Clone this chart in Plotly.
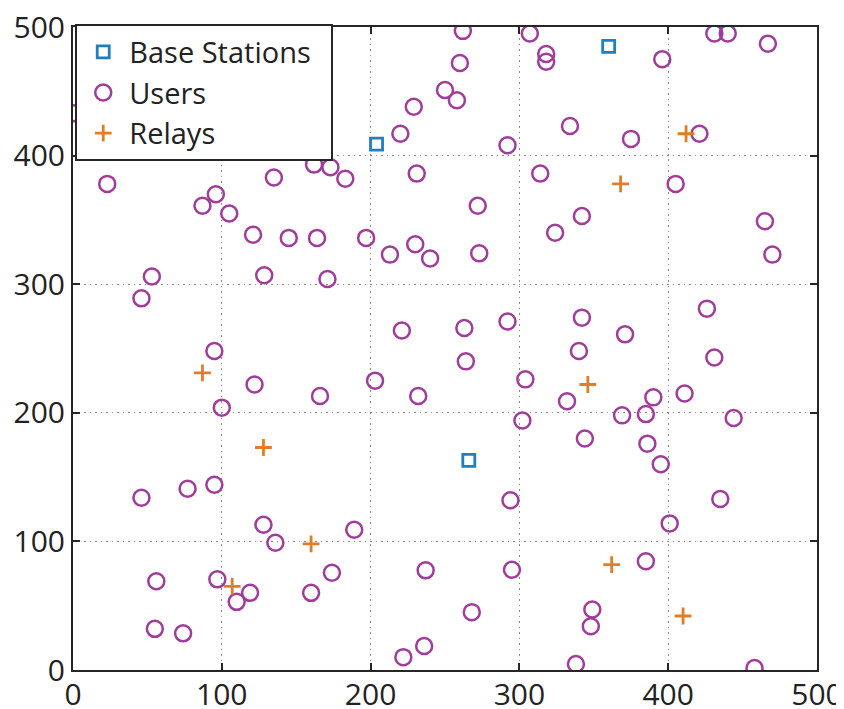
import plotly.graph_objects as go

# Base stations
bs_x = [204, 360, 266]
bs_y = [409, 485, 163]

# Relays
relay_x = [412, 368, 87, 128, 160, 107, 346, 362, 410]
relay_y = [417, 378, 231, 173, 98, 65, 222, 82, 42]

# Users
user_x = [0.5, 23, 87, 96, 105, 121, 135, 145, 162, 173, 183, 164, 197, 213, 128.5, 171,
          53, 46, 220, 229, 231, 230, 221, 95,
          262, 307, 318, 318, 260, 250, 258, 396, 431, 440, 467, 334, 375, 421, 292, 314,
          405, 272, 342, 324, 465, 470, 240, 273, 426, 292, 263, 342, 371, 340, 431, 264,
          304, 232, 332, 390, 411, 369, 385, 444, 302, 344, 386, 395, 294, 435, 401, 385,
          237, 295, 268, 349, 348, 236, 338, 458,
          122, 166, 203, 100, 46, 77, 95, 128, 136, 189, 56, 97, 119, 110, 160, 174,
          55, 74, 222]
user_y = [433, 378, 361, 370, 355, 338.5, 383, 336, 393, 391, 382, 336, 336, 323, 307, 304,
          306, 289, 417, 438, 386, 331, 264, 248,
          497, 495, 479, 473, 472, 451, 443, 475, 495, 495, 487, 423, 413, 417, 408, 386,
          378, 361, 353, 340, 349, 323, 320, 324, 281, 271, 266, 274, 261, 248, 243, 240,
          226, 213, 209, 212, 215, 198, 199, 196, 194, 180, 176, 160, 132, 133, 114, 84.5,
          77.5, 78, 45, 47, 34, 18.6, 4.7, 1.6,
          222, 213, 225, 204, 134, 141, 144, 113, 99, 109, 69, 70.5, 60, 53, 60, 75.6,
          32, 28.5, 10]

x_ticks = [0, 100, 200, 300, 400, 500]
y_ticks = [0, 100, 200, 300, 400, 500]

legend_names = ["Base Stations\u00a0\u00a0", "Users", "Relays"]

fig = go.Figure()
fig.add_trace(go.Scatter(
    x=bs_x, y=bs_y, mode="markers", name=legend_names[0],
    marker=dict(symbol="square-open", size=12, color="#1f7fc1", line=dict(width=2.8, color="#1f7fc1")),
))
fig.add_trace(go.Scatter(
    x=user_x, y=user_y, mode="markers", name=legend_names[1],
    marker=dict(symbol="circle-open", size=16, color="#a03c9a", line=dict(width=2.5, color="#a03c9a")),
))
fig.add_trace(go.Scatter(
    x=relay_x, y=relay_y, mode="markers", name=legend_names[2],
    marker=dict(symbol="cross-thin-open", size=12, color="#e07e26", line=dict(width=2.8, color="#e07e26")),
))

axis_common = dict(
    showgrid=True, gridcolor="#8a8a8a", griddash="1.5px,4px", gridwidth=1.2,
    showline=True, linecolor="#262626", linewidth=2, mirror="ticks",
    ticks="inside", ticklen=7, tickwidth=1.5, tickcolor="#262626",
    zeroline=False, automargin=False, ticklabeloverflow="allow",
    tickfont=dict(family="Open Sans", size=30, color="#222222"),
)

# page body has an 8px default margin, so the figure is offset by 8px
fig.update_layout(
    width=836, height=701,
    margin=dict(l=65, r=27, t=19, b=39),
    paper_bgcolor="white", plot_bgcolor="white",
    showlegend=True,
    legend=dict(
        x=0.003, y=1.004, xanchor="left", yanchor="top",
        bordercolor="#262626", borderwidth=2, bgcolor="white",
        font=dict(family="Open Sans", size=29, color="#222222"),
        itemsizing="trace", itemwidth=42, tracegroupgap=0,
    ),
    xaxis=dict(range=[0, 500], tickvals=x_ticks, ticktext=[str(v) for v in x_ticks],
               ticklabelstandoff=-3, **axis_common),
    yaxis=dict(range=[0, 500], tickvals=y_ticks, ticktext=[str(v) for v in y_ticks], **axis_common),
)

fig.write_html("out.html")
